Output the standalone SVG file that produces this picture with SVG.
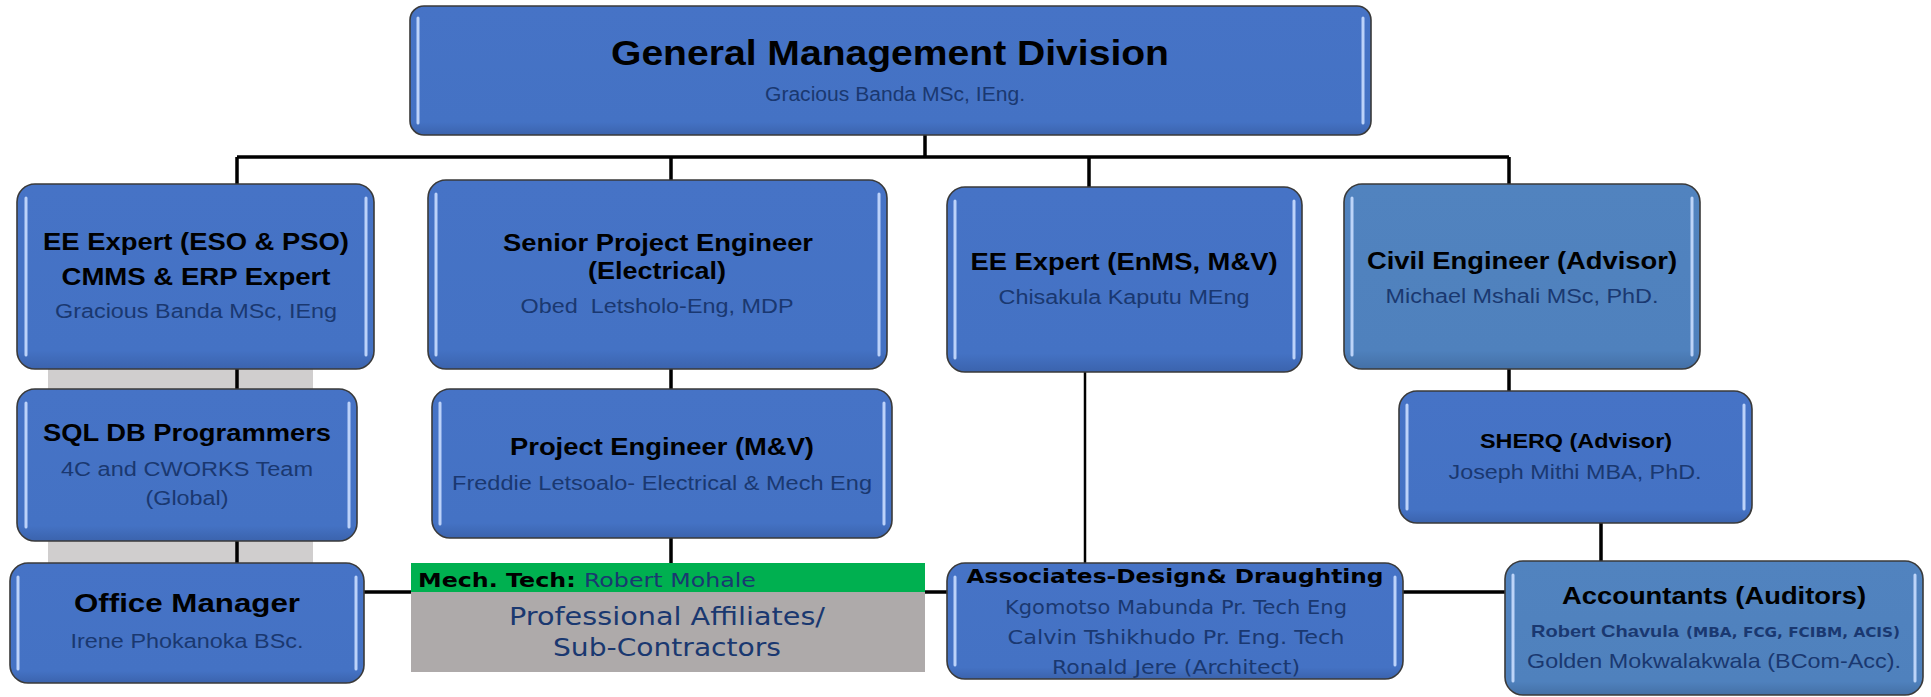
<svg xmlns="http://www.w3.org/2000/svg" width="1931" height="697" viewBox="0 0 1931 697">
<defs>
<linearGradient id="gA" x1="0" y1="0" x2="0" y2="1">
<stop offset="0" stop-color="#4673c6"/><stop offset="0.9" stop-color="#4472C4"/><stop offset="1" stop-color="#3b63ad"/>
</linearGradient>
<linearGradient id="gB" x1="0" y1="0" x2="0" y2="1">
<stop offset="0" stop-color="#5183bf"/><stop offset="0.9" stop-color="#4F81BD"/><stop offset="1" stop-color="#4470a6"/>
</linearGradient>
</defs>
<style>
.box{fill:url(#gA);stroke:#3a3a3a;stroke-width:1.6}
.boxb{fill:url(#gB);stroke:#3a3a3a;stroke-width:1.6}
.hl{stroke:#c9ddff;stroke-width:3;stroke-linecap:round;opacity:0.9}
.ln{fill:none;stroke:#000;stroke-width:3.5}
.ln2{fill:none;stroke:#000;stroke-width:2.5}
.t{font-family:"Liberation Sans",Arial,sans-serif;font-weight:bold;fill:#000;text-anchor:middle}
.s{font-family:"Liberation Sans",Arial,sans-serif;fill:#1a3870;text-anchor:middle}
.v{font-family:"DejaVu Sans",Verdana,sans-serif;fill:#1a3870;text-anchor:middle}
.vb{font-family:"DejaVu Sans",Verdana,sans-serif;font-weight:bold;fill:#000}
</style>
<rect id="band" x="48" y="369" width="265" height="194" fill="#d0cece"/>
<g id="connectors">
<path class="ln" d="M925 135V157M237 157H1509M237 157V184M671 157V180M1089 157V187M1509 157V184M237 369V389M237 541V563M671 369V389M671 538V563M1509 369V391M1601 523V561M364 592H411M925 592H947M1403 592H1505"/>
<path class="ln2" d="M1085 372V563"/>
</g>
<g id="general-management">
<rect class="box" x="410" y="6" width="961" height="129" rx="14"/>
<path class="hl" d="M418 18V123M1363 18V123"/>
<text class="t" x="890" y="65" font-size="35" textLength="558" lengthAdjust="spacingAndGlyphs">General Management Division</text>
<text class="s" x="895" y="101" font-size="20" textLength="260" lengthAdjust="spacingAndGlyphs">Gracious Banda MSc, IEng.</text>
</g>
<g id="ee-expert-eso">
<rect class="box" x="17" y="184" width="357" height="185" rx="18"/>
<path class="hl" d="M26 198V355M366 198V355"/>
<text class="t" x="196" y="250" font-size="23" textLength="306" lengthAdjust="spacingAndGlyphs">EE Expert (ESO &amp; PSO)</text>
<text class="t" x="196" y="285" font-size="23" textLength="269" lengthAdjust="spacingAndGlyphs">CMMS &amp; ERP Expert</text>
<text class="s" x="196" y="318" font-size="20" textLength="282" lengthAdjust="spacingAndGlyphs">Gracious Banda MSc, IEng</text>
</g>
<g id="sql-db">
<rect class="box" x="17" y="389" width="340" height="152" rx="18"/>
<path class="hl" d="M26 403V527M349 403V527"/>
<text class="t" x="187" y="441" font-size="24" textLength="288" lengthAdjust="spacingAndGlyphs">SQL DB Programmers</text>
<text class="s" x="187" y="476" font-size="20" textLength="252" lengthAdjust="spacingAndGlyphs">4C and CWORKS Team</text>
<text class="s" x="187" y="505" font-size="20" textLength="83" lengthAdjust="spacingAndGlyphs">(Global)</text>
</g>
<g id="office-manager">
<rect class="box" x="10" y="563" width="354" height="120" rx="18"/>
<path class="hl" d="M18 577V669M356 577V669"/>
<text class="t" x="187" y="612" font-size="26" textLength="226" lengthAdjust="spacingAndGlyphs">Office Manager</text>
<text class="s" x="187" y="648" font-size="20" textLength="233" lengthAdjust="spacingAndGlyphs">Irene Phokanoka BSc.</text>
</g>
<g id="senior-project-engineer">
<rect class="box" x="428" y="180" width="459" height="189" rx="18"/>
<path class="hl" d="M436 194V355M879 194V355"/>
<text class="t" x="658" y="251" font-size="23" textLength="310" lengthAdjust="spacingAndGlyphs">Senior Project Engineer</text>
<text class="t" x="657" y="279" font-size="23" textLength="138" lengthAdjust="spacingAndGlyphs">(Electrical)</text>
<text class="s" x="657" y="313" font-size="20" textLength="273" lengthAdjust="spacingAndGlyphs" xml:space="preserve">Obed  Letsholo-Eng, MDP</text>
</g>
<g id="project-engineer">
<rect class="box" x="432" y="389" width="460" height="149" rx="18"/>
<path class="hl" d="M440 403V524M884 403V524"/>
<text class="t" x="662" y="455" font-size="23" textLength="304" lengthAdjust="spacingAndGlyphs">Project Engineer (M&amp;V)</text>
<text class="s" x="662" y="490" font-size="20" textLength="420" lengthAdjust="spacingAndGlyphs">Freddie Letsoalo- Electrical &amp; Mech Eng</text>
</g>
<g id="affiliates">
<rect x="411" y="563" width="514" height="29" fill="#00B050"/>
<rect x="411" y="592" width="514" height="80" fill="#AEAAAA"/>
<text x="418" y="587" font-size="20" textLength="338" lengthAdjust="spacingAndGlyphs"><tspan class="vb">Mech. Tech: </tspan><tspan font-family="DejaVu Sans, Verdana, sans-serif" fill="#1a3870">Robert Mohale</tspan></text>
<text class="v" x="667" y="625" font-size="24" textLength="316" lengthAdjust="spacingAndGlyphs">Professional Affiliates/</text>
<text class="v" x="667" y="656" font-size="24" textLength="228" lengthAdjust="spacingAndGlyphs">Sub-Contractors</text>
</g>
<g id="ee-expert-enms">
<rect class="box" x="947" y="187" width="355" height="185" rx="18"/>
<path class="hl" d="M955 201V358M1294 201V358"/>
<text class="t" x="1124" y="270" font-size="24" textLength="307" lengthAdjust="spacingAndGlyphs">EE Expert (EnMS, M&amp;V)</text>
<text class="s" x="1124" y="304" font-size="20" textLength="251" lengthAdjust="spacingAndGlyphs">Chisakula Kaputu MEng</text>
</g>
<g id="associates">
<rect class="box" x="947" y="563" width="456" height="116" rx="18"/>
<path class="hl" d="M955 577V665M1395 577V665"/>
<text class="vb" x="1175" y="583" font-size="20" text-anchor="middle" textLength="417" lengthAdjust="spacingAndGlyphs">Associates-Design&amp; Draughting</text>
<text class="v" x="1176" y="614" font-size="20" textLength="342" lengthAdjust="spacingAndGlyphs">Kgomotso Mabunda Pr. Tech Eng</text>
<text class="v" x="1176" y="644" font-size="20" textLength="337" lengthAdjust="spacingAndGlyphs">Calvin Tshikhudo Pr. Eng. Tech</text>
<text class="v" x="1176" y="674" font-size="20" textLength="248" lengthAdjust="spacingAndGlyphs">Ronald Jere (Architect)</text>
</g>
<g id="civil-engineer">
<rect class="boxb" x="1344" y="184" width="356" height="185" rx="18"/>
<path class="hl" d="M1352 198V355M1692 198V355"/>
<text class="t" x="1522" y="269" font-size="24" textLength="310" lengthAdjust="spacingAndGlyphs">Civil Engineer (Advisor)</text>
<text class="s" x="1522" y="303" font-size="20" textLength="273" lengthAdjust="spacingAndGlyphs">Michael Mshali MSc, PhD.</text>
</g>
<g id="sherq">
<rect class="box" x="1399" y="391" width="353" height="132" rx="18"/>
<path class="hl" d="M1407 405V509M1744 405V509"/>
<text class="t" x="1576" y="448" font-size="21" textLength="192" lengthAdjust="spacingAndGlyphs">SHERQ (Advisor)</text>
<text class="s" x="1575" y="479" font-size="20" textLength="253" lengthAdjust="spacingAndGlyphs">Joseph Mithi MBA, PhD.</text>
</g>
<g id="accountants">
<rect class="boxb" x="1505" y="561" width="418" height="134" rx="18"/>
<path class="hl" d="M1513 575V681M1915 575V681"/>
<text class="t" x="1714" y="604" font-size="24" textLength="304" lengthAdjust="spacingAndGlyphs">Accountants (Auditors)</text>
<text x="1531" y="637" font-size="17" font-family="Liberation Sans, Arial, sans-serif" font-weight="bold" fill="#1a3870" textLength="148" lengthAdjust="spacingAndGlyphs">Robert Chavula</text>
<text x="1686" y="637" font-size="14" font-family="DejaVu Sans, Verdana, sans-serif" font-weight="bold" fill="#1a3870" textLength="214" lengthAdjust="spacingAndGlyphs">(MBA, FCG, FCIBM, ACIS)</text>
<text class="s" x="1714" y="668" font-size="21" textLength="374" lengthAdjust="spacingAndGlyphs">Golden Mokwalakwala (BCom-Acc).</text>
</g>
</svg>
